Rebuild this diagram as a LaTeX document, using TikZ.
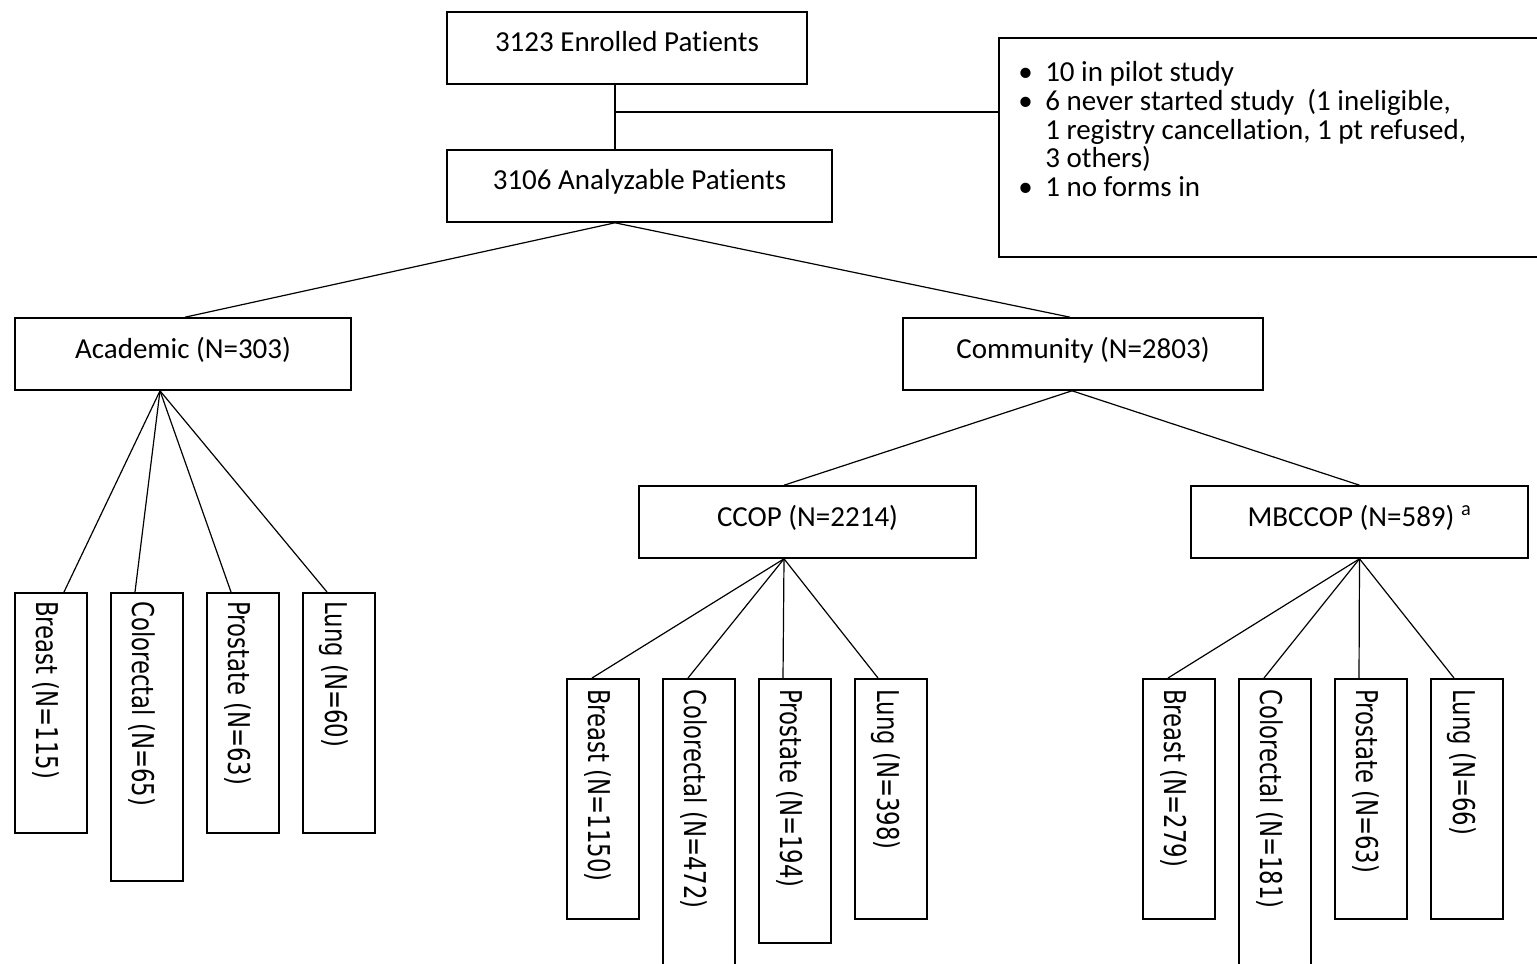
\documentclass[tikz,border=0pt]{standalone}
\usepackage{graphicx}
\usepackage{fontspec}
\setmainfont{Carlito}[Ligatures=NoCommon]
\newfontfamily\leaffont{DejaVu Sans}
\usetikzlibrary{calc}

\begin{document}
\begin{tikzpicture}[x=0.75pt,y=0.75pt,yscale=-1,xscale=1,
  font=\fontsize{21.75}{21.6}\selectfont,
  box/.style={draw, line width=1.2pt, minimum height=54pt, text height=15pt, text depth=9pt, inner sep=0pt},
  leaf/.style={draw, line width=1.2pt, minimum width=54pt, anchor=north, inner sep=0pt},
  leaftext/.style={rotate=-90, anchor=west, inner sep=0pt, font=\leaffont\fontsize{22.5}{27}\selectfont},
  link/.style={line width=0.9pt}]
\path[use as bounding box] (0,0) rectangle (1537,963);

%Shape: Rectangle
\node[box, minimum width=270pt] (enrolled) at (627,48) {3123 Enrolled Patients};
%Shape: Rectangle
\node[box, minimum width=288.75pt] (analyzable) at (639.5,186) {3106 Analyzable Patients};
%Shape: Rectangle
\node[draw, line width=1.2pt, minimum width=409.5pt, minimum height=164.25pt, inner sep=0pt] (excluded) at (1272,147.5) {};
% Text Node
\node[anchor=north west, inner sep=0pt, align=left] (reasons) at (1018,61) {\makebox[20.25pt][l]{\textbullet}10 in pilot study\\
  \makebox[20.25pt][l]{\textbullet}6 never started study~ (1 ineligible,\\
  \hspace*{20.25pt}1 registry cancellation, 1 pt refused,\\
  \hspace*{20.25pt}3 others)\\
  \makebox[20.25pt][l]{\textbullet}1 no forms in};

%Straight Lines
\coordinate (stem) at (615,112);
\draw[link] (enrolled.south -| stem) -- (analyzable.north -| stem);
\draw[link] (stem) -- (stem -| excluded.west);

%Shape: Rectangle
\node[box, minimum width=252pt] (academic) at (183,354) {Academic (N=303)};
%Shape: Rectangle
\node[box, minimum width=270pt] (community) at (1083,354) {Community (N=2803)};
%Straight Lines
\draw[link] (analyzable.south -| stem) -- ($(academic.north)+(2,0)$);
\draw[link] (analyzable.south -| stem) -- ($(community.north)+(-13,0)$);

%Shape: Rectangle
\node[box, minimum width=252.75pt] (ccop) at (807.5,522) {CCOP (N=2214)};
%Shape: Rectangle
\node[box, minimum width=252.75pt] (mbccop) at (1359.5,522) {MBCCOP (N=589) \textsuperscript{a}};
%Straight Lines
\coordinate (cmHub) at ($(community.south)+(-11,0)$);
\draw[link] (cmHub) -- ($(ccop.north)+(-23.5,0)$);
\draw[link] (cmHub) -- (mbccop.north);

%Shape: Rectangle -- academic sites
\node[leaf, minimum height=180pt] (acBreast) at (51,592) {};
\node[leaf, minimum height=216pt] (acColorectal) at (147,592) {};
\node[leaf, minimum height=180pt] (acProstate) at (243,592) {};
\node[leaf, minimum height=180pt] (acLung) at (339,592) {};
% Text Node
\node[leaftext] (acBreastTxt) at ($(acBreast.north)+(-5,9)$) {\scalebox{0.76}[1]{Breast (N=115)}};
\node[leaftext] (acColorectalTxt) at ($(acColorectal.north)+(-5,9)$) {\scalebox{0.76}[1]{Colorectal (N=65)}};
\node[leaftext] (acProstateTxt) at ($(acProstate.north)+(-5,9)$) {\scalebox{0.76}[1]{Prostate (N=63)}};
\node[leaftext] (acLungTxt) at ($(acLung.north)+(-5,9)$) {\scalebox{0.76}[1]{Lung (N=60)}};
%Straight Lines
\coordinate (acHub) at ($(academic.south)+(-23,0)$);
\draw[link] (acHub) -- ($(acBreast.north)+(13,0)$);
\draw[link] (acHub) -- ($(acColorectal.north)+(-12,0)$);
\draw[link] (acHub) -- ($(acProstate.north)+(-12,0)$);
\draw[link] (acHub) -- ($(acLung.north)+(-12,0)$);

%Shape: Rectangle -- CCOP sites
\node[leaf, minimum height=180pt] (ccBreast) at (603,678) {};
\node[leaf, minimum height=226.5pt] (ccColorectal) at (699,678) {};
\node[leaf, minimum height=198pt] (ccProstate) at (795,678) {};
\node[leaf, minimum height=180pt] (ccLung) at (891,678) {};
% Text Node
\node[leaftext] (ccBreastTxt) at ($(ccBreast.north)+(-5,11)$) {\scalebox{0.76}[1]{Breast (N=1150)}};
\node[leaftext] (ccColorectalTxt) at ($(ccColorectal.north)+(-5,11)$) {\scalebox{0.76}[1]{Colorectal (N=472)}};
\node[leaftext] (ccProstateTxt) at ($(ccProstate.north)+(-5,11)$) {\scalebox{0.76}[1]{Prostate (N=194)}};
\node[leaftext] (ccLungTxt) at ($(ccLung.north)+(-5,11)$) {\scalebox{0.76}[1]{Lung (N=398)}};
%Straight Lines
\coordinate (ccHub) at ($(ccop.south)+(-23.5,0)$);
\draw[link] (ccHub) -- ($(ccBreast.north)+(-11,0)$);
\draw[link] (ccHub) -- ($(ccColorectal.north)+(-11,0)$);
\draw[link] (ccHub) -- ($(ccProstate.north)+(-12,0)$);
\draw[link] (ccHub) -- ($(ccLung.north)+(-13,0)$);

%Shape: Rectangle -- MBCCOP sites
\node[leaf, minimum height=180pt] (mbBreast) at (1179,678) {};
\node[leaf, minimum height=226.5pt] (mbColorectal) at (1275,678) {};
\node[leaf, minimum height=180pt] (mbProstate) at (1371,678) {};
\node[leaf, minimum height=180pt] (mbLung) at (1467,678) {};
% Text Node
\node[leaftext] (mbBreastTxt) at ($(mbBreast.north)+(-5,11)$) {\scalebox{0.76}[1]{Breast (N=279)}};
\node[leaftext] (mbColorectalTxt) at ($(mbColorectal.north)+(-5,11)$) {\scalebox{0.76}[1]{Colorectal (N=181)}};
\node[leaftext] (mbProstateTxt) at ($(mbProstate.north)+(-5,11)$) {\scalebox{0.76}[1]{Prostate (N=63)}};
\node[leaftext] (mbLungTxt) at ($(mbLung.north)+(-5,11)$) {\scalebox{0.76}[1]{Lung (N=66)}};
%Straight Lines
\coordinate (mbHub) at (mbccop.south);
\draw[link] (mbHub) -- ($(mbBreast.north)+(-11,0)$);
\draw[link] (mbHub) -- ($(mbColorectal.north)+(-11,0)$);
\draw[link] (mbHub) -- ($(mbProstate.north)+(-12,0)$);
\draw[link] (mbHub) -- ($(mbLung.north)+(-13,0)$);

\end{tikzpicture}
\end{document}
